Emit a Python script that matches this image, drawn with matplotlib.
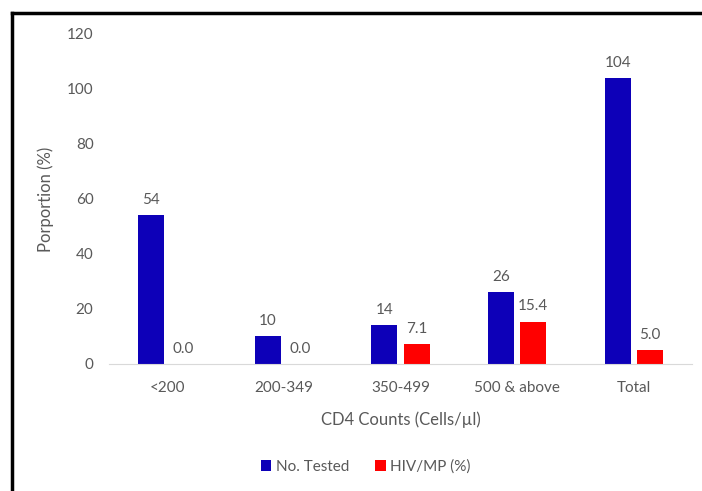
import matplotlib.pyplot as plt
import numpy as np
from matplotlib.lines import Line2D

plt.rcParams['font.family'] = ['Lato', 'DejaVu Sans']

categories = ["<200", "200-349", "350-499", "500 & above", "Total"]
no_tested = [54, 10, 14, 26, 104]
hiv_mp = [0.0, 0.0, 7.1, 15.4, 5.0]
series_names = ["No. Tested", "HIV/MP (%)"]

TEXT = "#595959"
BLUE = "#0D00B8"
RED = "#FF0000"

fig = plt.figure(figsize=(7.02, 4.91), dpi=100)
ax = fig.add_axes([0.155, 0.2587, 0.831, 0.6721])

x = np.arange(len(categories))
w = 0.224
off = (w + 0.052) / 2
b1 = ax.bar(x - off, no_tested, w, color=BLUE, label=series_names[0])
b2 = ax.bar(x + off, hiv_mp, w, color=RED, label=series_names[1])

for rect, v in zip(b1, no_tested):
    ax.annotate(f"{v:g}", (rect.get_x() + rect.get_width() / 2, v),
                xytext=(0, 6), textcoords="offset points",
                ha="center", va="bottom", fontsize=11, color=TEXT)
for rect, v in zip(b2, hiv_mp):
    ax.annotate(f"{v:.1f}", (rect.get_x() + rect.get_width() / 2, v),
                xytext=(0, 6), textcoords="offset points",
                ha="center", va="bottom", fontsize=11, color=TEXT)

ax.set_xlim(-0.5, len(categories) - 0.5)
ax.set_ylim(0, 120)
ax.set_yticks(range(0, 121, 20))
ax.set_xticks(x)
ax.set_xticklabels(categories)
ax.tick_params(axis="both", length=0, labelsize=11, labelcolor=TEXT)
ax.tick_params(axis="x", pad=12)
ax.tick_params(axis="y", pad=11)
for s in ("top", "right", "left"):
    ax.spines[s].set_visible(False)
ax.spines["bottom"].set_color("#D9D9D9")

ax.set_xlabel("CD4 Counts (Cells/µl)", fontsize=12, color=TEXT, labelpad=12)
ax.set_ylabel("Porportion (%)", fontsize=12, color=TEXT, labelpad=9)

fig.legend(handles=[b1, b2], loc="center", bbox_to_anchor=(0.521, 0.05),
           ncol=2, frameon=False, fontsize=11, labelcolor=TEXT,
           handlelength=0.7, handleheight=0.7, handletextpad=0.3,
           columnspacing=1.7)

# outer chart frame
fig.add_artist(Line2D([11.5 / 702, 1], [1 - 12.5 / 491] * 2, color="black", lw=2.5))
fig.add_artist(Line2D([11.5 / 702] * 2, [0, 1 - 12.5 / 491], color="black", lw=2.5))

fig.savefig("out.png", dpi=100)
